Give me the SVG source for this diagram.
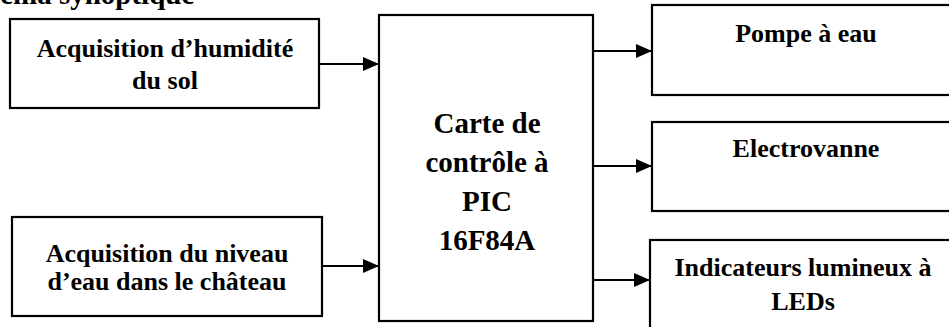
<svg xmlns="http://www.w3.org/2000/svg" width="949" height="327" viewBox="0 0 949 327">
<defs>
<style>
.box{fill:#fff;stroke:#000;stroke-width:2.2}
.t{font-family:"Liberation Serif","Times New Roman",serif;font-weight:bold;font-size:26px;fill:#000;text-anchor:middle}
.tc{font-size:29px}
.title{font-family:"Liberation Serif","Times New Roman",serif;font-weight:bold;font-size:29px;fill:#000}
.conn{stroke:#000;stroke-width:2.2;fill:none;marker-end:url(#ah)}
</style>
<marker id="ah" viewBox="0 0 16 14" refX="16" refY="7" markerWidth="16" markerHeight="14" markerUnits="userSpaceOnUse" orient="auto">
<path d="M0,0 L16,7 L0,14 Z" fill="#000"/>
</marker>
</defs>
<rect width="949" height="327" fill="#fff"/>
<text class="title" x="-45" y="4">Schéma synoptique</text>
<g id="acq-humidite">
<rect class="box" x="10" y="19" width="309" height="89"/>
<text class="t" x="165" y="57">Acquisition d’humidité</text>
<text class="t" x="165" y="89">du sol</text>
</g>
<g id="acq-niveau">
<rect class="box" x="12" y="217" width="310" height="99"/>
<text class="t" x="167" y="262">Acquisition du niveau</text>
<text class="t" x="167" y="290">d’eau dans le château</text>
</g>
<g id="carte-pic">
<rect class="box" x="379" y="15" width="214" height="306"/>
<text class="t tc" x="487" y="133">Carte de</text>
<text class="t tc" x="487" y="172">contrôle à</text>
<text class="t tc" x="487" y="211">PIC</text>
<text class="t tc" x="487" y="250">16F84A</text>
</g>
<g id="pompe">
<rect class="box" x="652" y="5" width="310" height="90"/>
<text class="t" x="806" y="42">Pompe à eau</text>
</g>
<g id="electrovanne">
<rect class="box" x="652" y="122" width="310" height="89"/>
<text class="t" x="806" y="157">Electrovanne</text>
</g>
<g id="indicateurs">
<rect class="box" x="650" y="240" width="312" height="100"/>
<text class="t" x="803" y="276">Indicateurs lumineux à</text>
<text class="t" x="803" y="310">LEDs</text>
</g>
<g id="connectors">
<line class="conn" x1="319" y1="64" x2="379" y2="64"/>
<line class="conn" x1="322" y1="266" x2="379" y2="266"/>
<line class="conn" x1="593" y1="51" x2="652" y2="51"/>
<line class="conn" x1="593" y1="166" x2="652" y2="166"/>
<line class="conn" x1="593" y1="280" x2="650" y2="280"/>
</g>
</svg>
